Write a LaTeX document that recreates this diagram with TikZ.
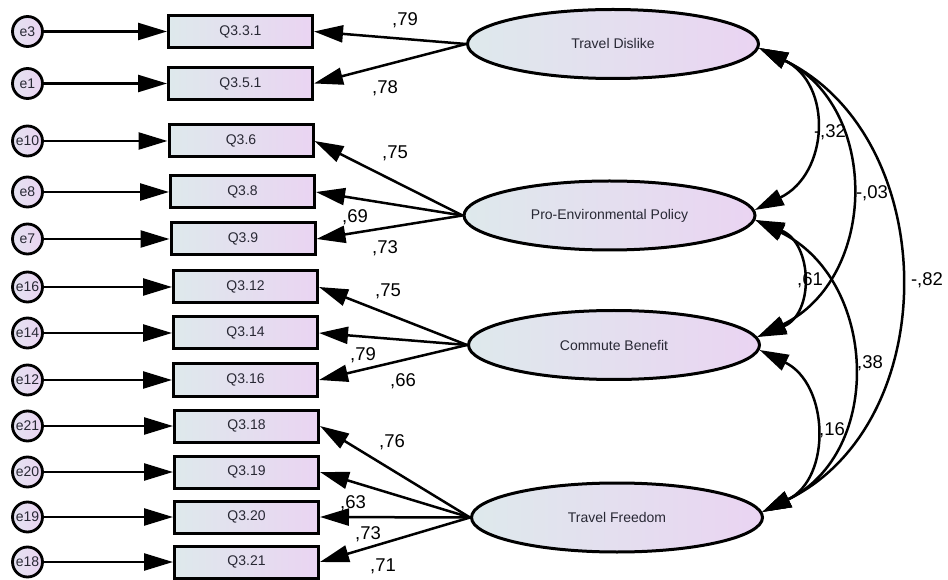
\documentclass[tikz,border=0pt]{standalone}
\usepackage{fontspec}
\setmainfont{Liberation Sans}
\usetikzlibrary{arrows.meta,shapes.geometric}
\definecolor{fillL}{RGB}{222,233,236}
\definecolor{fillR}{RGB}{234,212,242}
\definecolor{errL}{RGB}{228,226,240}
\definecolor{ink}{RGB}{40,40,52}
\begin{document}
\begin{tikzpicture}[x=1pt,y=1pt,
  obs/.style={draw=black,line width=3pt,rectangle,minimum width=144pt,minimum height=32pt,
    inner sep=0pt,left color=fillL,right color=fillR,text=ink,font=\fontsize{14}{16}\selectfont},
  err/.style={draw=black,line width=2.8pt,circle,minimum size=30pt,inner sep=0pt,
    left color=errL,right color=fillR,text=ink,font=\fontsize{14}{16}\selectfont},
  lat/.style={draw=black,line width=3pt,ellipse,minimum width=291pt,minimum height=69pt,
    inner sep=0pt,left color=fillL,right color=fillR,text=ink,font=\fontsize{14}{16}\selectfont},
  tip/.tip={Triangle[length=29pt,width=17pt]},
  lnk/.style={line width=2.5pt,-tip},
  cov/.style={line width=2.5pt,tip-tip,out=-26,in=26,looseness=1.19},
  coef/.style={font=\fontsize{18.5}{20}\selectfont,text=black,inner sep=0pt}
]
\useasboundingbox (0,0) rectangle (948,579);

% observed indicators
\node[obs] (q331) at (240.5,547.5) {Q3.3.1};
\node[obs] (q351) at (240.5,495.5) {Q3.5.1};
\node[obs] (q36)  at (241,438)   {Q3.6};
\node[obs] (q38)  at (242.5,387) {Q3.8};
\node[obs] (q39)  at (243,340)   {Q3.9};
\node[obs] (q312) at (245.5,292) {Q3.12};
\node[obs] (q314) at (245.5,246) {Q3.14};
\node[obs] (q316) at (245.5,199) {Q3.16};
\node[obs] (q318) at (246.5,153) {Q3.18};
\node[obs] (q319) at (246.5,107) {Q3.19};
\node[obs] (q320) at (246.5,62)  {Q3.20};
\node[obs] (q321) at (246.5,17)  {Q3.21};

% error terms
\node[err] (e3)  at (27.5,547.5) {e3};
\node[err] (e1)  at (27.5,495.5) {e1};
\node[err] (e10) at (27.5,438)   {e10};
\node[err] (e8)  at (27.5,387)   {e8};
\node[err] (e7)  at (27.5,340)   {e7};
\node[err] (e16) at (27.5,292)   {e16};
\node[err] (e14) at (27.5,246)   {e14};
\node[err] (e12) at (27.5,199)   {e12};
\node[err] (e21) at (27.5,153)   {e21};
\node[err] (e20) at (27.5,107)   {e20};
\node[err] (e19) at (27.5,62)    {e19};
\node[err] (e18) at (27.5,17)    {e18};

% latent factors
\node[lat] (td)  at (613,535)    {Travel Dislike};
\node[lat] (pep) at (609.5,363.5){Pro-Environmental Policy};
\node[lat] (cb)  at (614,234)    {Commute Benefit};
\node[lat] (tf)  at (617,61.5)   {Travel Freedom};

% error paths
\foreach \e/\q in {e3/q331,e1/q351,e10/q36,e8/q38,e7/q39,e16/q312,e14/q314,e12/q316,e21/q318,e20/q319,e19/q320,e18/q321}
  \draw[lnk] (\e) -- (\q);

% factor loadings
\foreach \f/\q in {td/q331,td/q351,pep/q36,pep/q38,pep/q39,cb/q312,cb/q314,cb/q316,tf/q318,tf/q319,tf/q320,tf/q321}
  \draw[lnk] (\f.west) -- (\q.east);

% covariances
\draw[cov,looseness=1.3] ([xshift=-0.9pt,yshift=-4pt]td.east) to ([xshift=-1.7pt,yshift=5.5pt]pep.east);
\draw[cov] ([xshift=-0.9pt,yshift=-4pt]td.east) to ([xshift=-3.7pt,yshift=8pt]cb.east);
\draw[cov,looseness=1.12] ([xshift=-0.9pt,yshift=-4pt]td.east) to ([xshift=-1.7pt,yshift=5.5pt]tf.east);
\draw[cov,looseness=1.35,out=-22,in=22] ([xshift=-1.2pt,yshift=-4.5pt]pep.east) to ([xshift=-3.7pt,yshift=8pt]cb.east);
\draw[cov] ([xshift=-1.2pt,yshift=-4.5pt]pep.east) to ([xshift=-1.7pt,yshift=5.5pt]tf.east);
\draw[cov,looseness=1.22] ([xshift=-1.4pt,yshift=-5pt]cb.east) to ([xshift=-1.7pt,yshift=5.5pt]tf.east);

% loading estimates
\node[coef] (l1)  at (405,559) {,79};
\node[coef] (l2)  at (385,491) {,78};
\node[coef] (l3)  at (395,426) {,75};
\node[coef] (l4)  at (355,362) {,69};
\node[coef] (l5)  at (385,331) {,73};
\node[coef] (l6)  at (388,288) {,75};
\node[coef] (l7)  at (363,224) {,79};
\node[coef] (l8)  at (403,198) {,66};
\node[coef] (l9)  at (392,137) {,76};
\node[coef] (l10) at (353,76)  {,63};
\node[coef] (l11) at (368,45)  {,73};
\node[coef] (l12) at (383,13)  {,71};

% correlation estimates
\node[coef] (c1) at (830,447) {-,32};
\node[coef] (c2) at (872,386) {-,03};
\node[coef] (c3) at (810,299) {,61};
\node[coef] (c4) at (927,299) {-,82};
\node[coef] (c5) at (870,216) {,38};
\node[coef] (c6) at (832,149) {,16};
\end{tikzpicture}
\end{document}
